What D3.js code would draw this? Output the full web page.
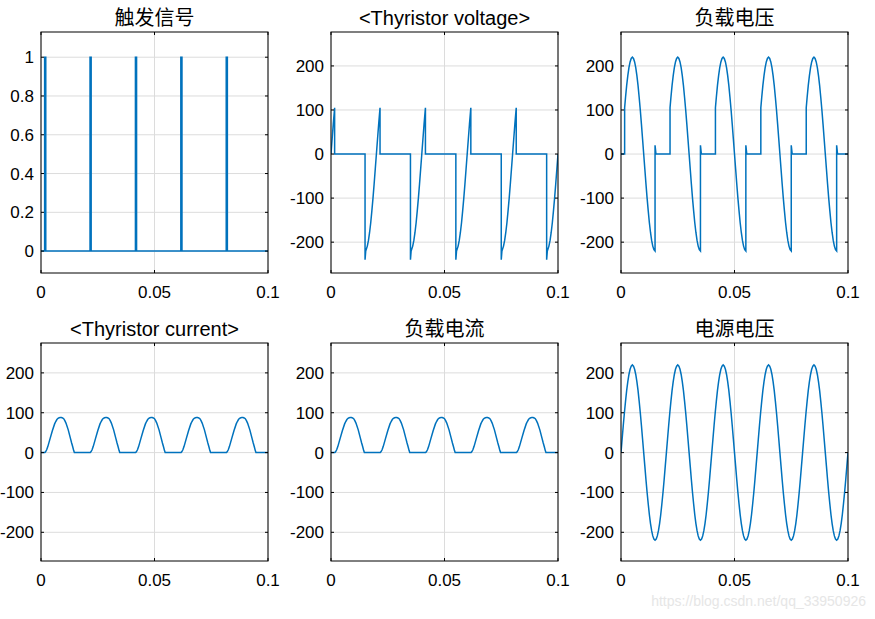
<!DOCTYPE html>
<html><head><meta charset="utf-8">
<script src="https://cdn.jsdelivr.net/npm/d3@7"></script>
<style>body{margin:0;background:#fff}svg{display:block}</style>
</head><body>
<script>
// one 20 ms period of each waveform, [ms, value]
const periodMs = 20;
const nPeriods = 5;
const triggerPeriod = [[0,0],[1.6,0],[1.6,1],[2.1,1],[2.1,0],[20,0]];
const thyVoltPeriod = [[0,0],[0.5,34],[1,68],[1.6,105],[1.6,0],[15,0],[15,-240],[15.3,-220],[16,-209],[16.5,-196],[17,-178],[17.5,-156],[18,-129],[18.5,-100],[19,-68],[19.5,-34],[20,0]];
const loadVoltPeriod = [[0,0],[1.6,0],[1.6,105],[2,129],[2.5,156],[3,178],[3.5,196],[4,209],[4.5,217],[5,220],[5.5,217],[6,209],[6.5,196],[7,178],[7.5,156],[8,129],[8.5,100],[9,68],[9.5,34],[10,0],[10.5,-34],[11,-68],[11.5,-100],[12,-129],[12.5,-156],[13,-178],[13.5,-196],[14,-209],[14.5,-217],[15,-220],[15,20],[15.4,0],[20,0]];
const currentPeriod = [[0,0],[1.7,0],[2,2],[2.5,7],[3,15],[3.5,25],[4,35],[5,55],[6,72],[6.5,78],[7,83],[7.5,86],[8,87.5],[8.5,88],[9,88],[9.5,87],[10,85],[10.5,80],[11,74],[12,57],[13,35],[13.5,24],[14,14],[14.4,5],[14.7,0],[20,0]];
const sourcePeriod = [[0,0],[0.5,34],[1,68],[1.5,100],[2,129],[2.5,156],[3,178],[3.5,196],[4,209],[4.5,217],[5,220],[5.5,217],[6,209],[6.5,196],[7,178],[7.5,156],[8,129],[8.5,100],[9,68],[9.5,34],[10,0],[10.5,-34],[11,-68],[11.5,-100],[12,-129],[12.5,-156],[13,-178],[13.5,-196],[14,-209],[14.5,-217],[15,-220],[15.5,-217],[16,-209],[16.5,-196],[17,-178],[17.5,-156],[18,-129],[18.5,-100],[19,-68],[19.5,-34],[20,0]];
const titles = ["触发信号","<Thyristor voltage>","负载电压","<Thyristor current>","负载电流","电源电压"];
const xTicks = [0,0.05,0.1];
const xTickLabels = ["0","0.05","0.1"];
const yTicksTrigger = [0,0.2,0.4,0.6,0.8,1];
const yTicksVolt = [-200,-100,0,100,200];

function tile(p){const out=[];for(let k=0;k<nPeriods;k++)p.forEach(d=>out.push([(d[0]+k*periodMs)/1000,d[1]]));return out;}

const W=875,H=619;
const svg=d3.select("body").append("svg").attr("width",W).attr("height",H);
const cols=[[41,268],[331,558],[621,848]];
const rows=[[32,273],[343,561]];
const panels=[
 {d:triggerPeriod,yd:[-0.113,1.13],yt:yTicksTrigger},
 {d:thyVoltPeriod,yd:[-270,277],yt:yTicksVolt},
 {d:loadVoltPeriod,yd:[-270,277],yt:yTicksVolt},
 {d:currentPeriod,yd:[-272,275],yt:yTicksVolt},
 {d:currentPeriod,yd:[-272,275],yt:yTicksVolt},
 {d:sourcePeriod,yd:[-272,275],yt:yTicksVolt}];
panels.forEach((p,i)=>{
 const [x0,x1]=cols[i%3],[y0,y1]=rows[Math.floor(i/3)];
 const x=d3.scaleLinear().domain([0,0.1]).range([x0,x1]);
 const y=d3.scaleLinear().domain(p.yd).range([y1,y0]);
 const g=svg.append("g");
 g.append("rect").attr("x",x0).attr("y",y0).attr("width",x1-x0).attr("height",y1-y0).attr("fill","#fff");
 g.selectAll(".gx").data(xTicks).enter().append("line").attr("x1",d=>x(d)).attr("x2",d=>x(d)).attr("y1",y0).attr("y2",y1).attr("stroke","#dcdcdc");
 g.selectAll(".gy").data(p.yt).enter().append("line").attr("y1",d=>y(d)).attr("y2",d=>y(d)).attr("x1",x0).attr("x2",x1).attr("stroke","#dcdcdc");
 const cid="c"+i;
 svg.append("clipPath").attr("id",cid).append("rect").attr("x",x0).attr("y",y0).attr("width",x1-x0).attr("height",y1-y0);
 g.append("path").datum(tile(p.d).filter(d=>d[0]<=0.1)).attr("clip-path",`url(#${cid})`)
  .attr("d",d3.line().x(d=>x(d[0])).y(d=>y(d[1]))).attr("fill","none").attr("stroke","#0072BD").attr("stroke-width",1.5);
 g.append("rect").attr("x",x0).attr("y",y0).attr("width",x1-x0).attr("height",y1-y0).attr("fill","none").attr("stroke","#000").attr("stroke-width",1);
 xTicks.forEach(t=>{g.append("line").attr("x1",x(t)).attr("x2",x(t)).attr("y1",y1).attr("y2",y1-3).attr("stroke","#000");
  g.append("line").attr("x1",x(t)).attr("x2",x(t)).attr("y1",y0).attr("y2",y0+3).attr("stroke","#000");});
 p.yt.forEach(t=>{g.append("line").attr("x1",x0).attr("x2",x0+3).attr("y1",y(t)).attr("y2",y(t)).attr("stroke","#000");
  g.append("line").attr("x1",x1).attr("x2",x1-3).attr("y1",y(t)).attr("y2",y(t)).attr("stroke","#000");});
 g.selectAll(".xl").data(xTicks).enter().append("text").attr("x",d=>x(d)).attr("y",y1+25).attr("text-anchor","middle")
  .attr("font-family","Liberation Sans, Arial").attr("font-size",17).text((d,j)=>xTickLabels[j]);
 g.selectAll(".yl").data(p.yt).enter().append("text").attr("x",x0-7).attr("y",d=>y(d)+6).attr("text-anchor","end")
  .attr("font-family","Liberation Sans, Arial").attr("font-size",17).text(d=>String(d));
 const cjk=/[\u4e00-\u9fff]/.test(titles[i]);
 g.append("text").attr("x",(x0+x1)/2).attr("y",y0-7).attr("text-anchor","middle")
  .attr("font-family",cjk?"Noto Sans CJK SC":"Liberation Sans, Arial").attr("font-size",cjk?20:20).text(titles[i]);
});
svg.append("text").attr("x",866).attr("y",606).attr("text-anchor","end").attr("font-family","Liberation Sans, Arial")
 .attr("font-size",14).attr("fill","#e6e6e6").text("https://blog.csdn.net/qq_33950926");
</script>
</body></html>
